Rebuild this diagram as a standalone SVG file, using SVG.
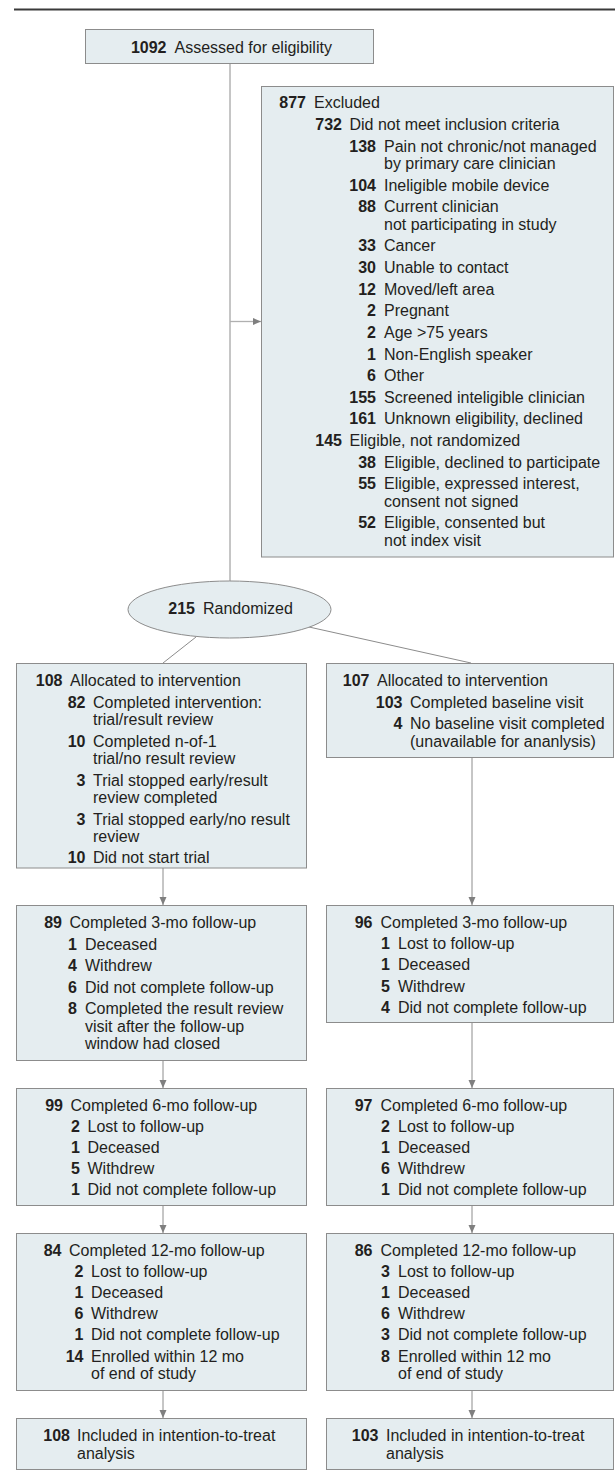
<svg xmlns="http://www.w3.org/2000/svg" width="615" height="1481" viewBox="0 0 615 1481">
<defs>
<style>
.box{fill:#e5edf0;stroke:#8c8c8c;stroke-width:1}
text{font-family:"Liberation Sans",Arial,sans-serif;font-size:16px;fill:#231f20}
.n{font-weight:bold;text-anchor:end}
.c{fill:none;stroke:#8c8c8c;stroke-width:1}
</style>
<marker id="ah" markerUnits="userSpaceOnUse" markerWidth="9" markerHeight="8" refX="8" refY="3.5" orient="auto"><path d="M0,0 L8,3.5 L0,7 Z" fill="#7f7f7f"/></marker>
</defs>
<rect width="615" height="1481" fill="#ffffff"/>
<line x1="14" y1="9.5" x2="615" y2="9.5" stroke="#3a3a3a" stroke-width="2"/>

<g id="connectors">
<line class="c" x1="230" y1="63" x2="230" y2="581"/>
<line x1="230" y1="321.5" x2="261" y2="321.5" stroke="#b0b0b0" stroke-width="1.3" marker-end="url(#ah)"/>
<line class="c" x1="196" y1="637" x2="163" y2="663"/>
<line class="c" x1="309" y1="627" x2="471" y2="663"/>
<line class="c" x1="163" y1="868" x2="163" y2="905" marker-end="url(#ah)"/>
<line class="c" x1="472" y1="757" x2="472" y2="905" marker-end="url(#ah)"/>
<line class="c" x1="163" y1="1060" x2="163" y2="1088" marker-end="url(#ah)"/>
<line class="c" x1="472" y1="1023" x2="472" y2="1088" marker-end="url(#ah)"/>
<line class="c" x1="163" y1="1205" x2="163" y2="1233" marker-end="url(#ah)"/>
<line class="c" x1="472" y1="1205" x2="472" y2="1233" marker-end="url(#ah)"/>
<line class="c" x1="163" y1="1390" x2="163" y2="1418" marker-end="url(#ah)"/>
<line class="c" x1="472" y1="1390" x2="472" y2="1418" marker-end="url(#ah)"/>
</g>

<g id="assessed">
<rect class="box" x="85.5" y="29.5" width="288" height="34"/>
<text class="n" x="166.5" y="53">1092</text><text x="174.5" y="53">Assessed for eligibility</text>
</g>

<g id="excluded">
<rect class="box" x="261.5" y="86.5" width="352" height="470.5"/>
<text class="n" x="306" y="108">877</text><text x="314" y="108">Excluded</text>
<text class="n" x="342" y="130">732</text><text x="349.5" y="130">Did not meet inclusion criteria</text>
<text class="n" x="376" y="152">138</text><text x="384" y="152">Pain not chronic/not managed</text>
<text x="384" y="169">by primary care clinician</text>
<text class="n" x="376" y="191">104</text><text x="384" y="191">Ineligible mobile device</text>
<text class="n" x="376" y="212">88</text><text x="384" y="212">Current clinician</text>
<text x="384" y="230">not participating in study</text>
<text class="n" x="376" y="251">33</text><text x="384" y="251">Cancer</text>
<text class="n" x="376" y="273">30</text><text x="384" y="273">Unable to contact</text>
<text class="n" x="376" y="295">12</text><text x="384" y="295">Moved/left area</text>
<text class="n" x="376" y="316">2</text><text x="384" y="316">Pregnant</text>
<text class="n" x="376" y="338">2</text><text x="384" y="338">Age &gt;75 years</text>
<text class="n" x="376" y="360">1</text><text x="384" y="360">Non-English speaker</text>
<text class="n" x="376" y="381">6</text><text x="384" y="381">Other</text>
<text class="n" x="376" y="403">155</text><text x="384" y="403">Screened inteligible clinician</text>
<text class="n" x="376" y="424">161</text><text x="384" y="424">Unknown eligibility, declined</text>
<text class="n" x="342" y="446">145</text><text x="349.5" y="446">Eligible, not randomized</text>
<text class="n" x="376" y="468">38</text><text x="384" y="468">Eligible, declined to participate</text>
<text class="n" x="376" y="489">55</text><text x="384" y="489">Eligible, expressed interest,</text>
<text x="384" y="507">consent not signed</text>
<text class="n" x="376" y="528">52</text><text x="384" y="528">Eligible, consented but</text>
<text x="384" y="546">not index visit</text>
</g>

<g id="randomized">
<ellipse cx="229.5" cy="609.5" rx="101.5" ry="28.5" fill="#e5edf0" stroke="#8c8c8c" stroke-width="1"/>
<text class="n" x="195" y="614">215</text><text x="203" y="614">Randomized</text>
</g>

<g id="alloc-left">
<rect class="box" x="16.5" y="663.5" width="290" height="204.5"/>
<text class="n" x="62.5" y="686">108</text><text x="70" y="686">Allocated to intervention</text>
<text class="n" x="85.5" y="707.5">82</text><text x="93" y="707.5">Completed intervention:</text>
<text x="93" y="725">trial/result review</text>
<text class="n" x="85.5" y="746.5">10</text><text x="93" y="746.5">Completed n-of-1</text>
<text x="93" y="764">trial/no result review</text>
<text class="n" x="85.5" y="785.5">3</text><text x="93" y="785.5">Trial stopped early/result</text>
<text x="93" y="803">review completed</text>
<text class="n" x="85.5" y="824.5">3</text><text x="93" y="824.5">Trial stopped early/no result</text>
<text x="93" y="842">review</text>
<text class="n" x="85.5" y="863">10</text><text x="93" y="863">Did not start trial</text>
</g>

<g id="alloc-right">
<rect class="box" x="326.5" y="663.5" width="287" height="94"/>
<text class="n" x="369.5" y="686">107</text><text x="377" y="686">Allocated to intervention</text>
<text class="n" x="402.5" y="707.5">103</text><text x="410" y="707.5">Completed baseline visit</text>
<text class="n" x="402.5" y="729">4</text><text x="410" y="729">No baseline visit completed</text>
<text x="410" y="746.5">(unavailable for ananlysis)</text>
</g>

<g id="fu3-left">
<rect class="box" x="16.5" y="905.5" width="290" height="155"/>
<text class="n" x="62" y="928">89</text><text x="69.5" y="928">Completed 3-mo follow-up</text>
<text class="n" x="77" y="949.5">1</text><text x="85" y="949.5">Deceased</text>
<text class="n" x="77" y="971">4</text><text x="85" y="971">Withdrew</text>
<text class="n" x="77" y="992.5">6</text><text x="85" y="992.5">Did not complete follow-up</text>
<text class="n" x="77" y="1014">8</text><text x="85" y="1014">Completed the result review</text>
<text x="85" y="1031.5">visit after the follow-up</text>
<text x="85" y="1049">window had closed</text>
</g>

<g id="fu3-right">
<rect class="box" x="326.5" y="905.5" width="287" height="117"/>
<text class="n" x="372.5" y="928">96</text><text x="380.5" y="928">Completed 3-mo follow-up</text>
<text class="n" x="390" y="949.2">1</text><text x="398" y="949.2">Lost to follow-up</text>
<text class="n" x="390" y="970.4">1</text><text x="398" y="970.4">Deceased</text>
<text class="n" x="390" y="991.6">5</text><text x="398" y="991.6">Withdrew</text>
<text class="n" x="390" y="1012.8">4</text><text x="398" y="1012.8">Did not complete follow-up</text>
</g>

<g id="fu6-left">
<rect class="box" x="16.5" y="1088.5" width="290" height="117"/>
<text class="n" x="63" y="1111">99</text><text x="70.5" y="1111">Completed 6-mo follow-up</text>
<text class="n" x="80" y="1132">2</text><text x="87.5" y="1132">Lost to follow-up</text>
<text class="n" x="80" y="1153">1</text><text x="87.5" y="1153">Deceased</text>
<text class="n" x="80" y="1174">5</text><text x="87.5" y="1174">Withdrew</text>
<text class="n" x="80" y="1195">1</text><text x="87.5" y="1195">Did not complete follow-up</text>
</g>

<g id="fu6-right">
<rect class="box" x="326.5" y="1088.5" width="287" height="117"/>
<text class="n" x="372.5" y="1111">97</text><text x="380.5" y="1111">Completed 6-mo follow-up</text>
<text class="n" x="390" y="1132">2</text><text x="398" y="1132">Lost to follow-up</text>
<text class="n" x="390" y="1153">1</text><text x="398" y="1153">Deceased</text>
<text class="n" x="390" y="1174">6</text><text x="398" y="1174">Withdrew</text>
<text class="n" x="390" y="1195">1</text><text x="398" y="1195">Did not complete follow-up</text>
</g>

<g id="fu12-left">
<rect class="box" x="16.5" y="1233.5" width="290" height="157"/>
<text class="n" x="61.5" y="1256">84</text><text x="69" y="1256">Completed 12-mo follow-up</text>
<text class="n" x="83.5" y="1277">2</text><text x="91" y="1277">Lost to follow-up</text>
<text class="n" x="83.5" y="1298">1</text><text x="91" y="1298">Deceased</text>
<text class="n" x="83.5" y="1319">6</text><text x="91" y="1319">Withdrew</text>
<text class="n" x="83.5" y="1340">1</text><text x="91" y="1340">Did not complete follow-up</text>
<text class="n" x="83.5" y="1361.5">14</text><text x="91" y="1361.5">Enrolled within 12 mo</text>
<text x="91" y="1379">of end of study</text>
</g>

<g id="fu12-right">
<rect class="box" x="326.5" y="1233.5" width="287" height="157"/>
<text class="n" x="372.5" y="1256">86</text><text x="380.5" y="1256">Completed 12-mo follow-up</text>
<text class="n" x="390" y="1277">3</text><text x="398" y="1277">Lost to follow-up</text>
<text class="n" x="390" y="1298">1</text><text x="398" y="1298">Deceased</text>
<text class="n" x="390" y="1319">6</text><text x="398" y="1319">Withdrew</text>
<text class="n" x="390" y="1340">3</text><text x="398" y="1340">Did not complete follow-up</text>
<text class="n" x="390" y="1361.5">8</text><text x="398" y="1361.5">Enrolled within 12 mo</text>
<text x="398" y="1379">of end of study</text>
</g>

<g id="itt-left">
<rect class="box" x="16.5" y="1418.5" width="290" height="51"/>
<text class="n" x="70" y="1441">108</text><text x="77" y="1441">Included in intention-to-treat</text>
<text x="77" y="1458.5">analysis</text>
</g>

<g id="itt-right">
<rect class="box" x="326.5" y="1418.5" width="287" height="51"/>
<text class="n" x="378.5" y="1441">103</text><text x="386" y="1441">Included in intention-to-treat</text>
<text x="386" y="1458.5">analysis</text>
</g>
</svg>
